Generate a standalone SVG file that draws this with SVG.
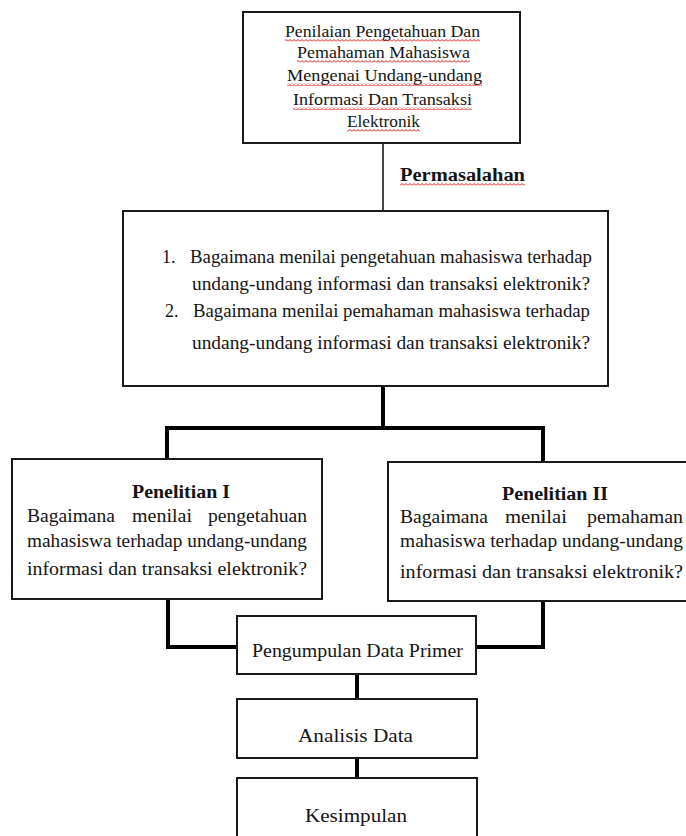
<svg xmlns="http://www.w3.org/2000/svg" width="686" height="836" viewBox="0 0 686 836">
<defs>
<pattern id="squig" x="0" y="0" width="4" height="3" patternUnits="userSpaceOnUse">
<path d="M0,2.5 L2,0.5 L4,2.5" stroke="#e01010" stroke-width="1" fill="none"/>
</pattern>
</defs>
<style>
.box{fill:#fff;stroke:#1a1a1a;stroke-width:2}
.t{font-family:"Liberation Serif","Times New Roman",serif;fill:#141414}
.s16{font-size:16px}
.s18{font-size:18px}
.b{font-weight:bold}
.c{text-anchor:middle}
.thick{fill:none;stroke:#000;stroke-width:4}
.thin{fill:none;stroke:#444;stroke-width:2}
.sq{fill:url(#squig)}
</style>
<rect width="686" height="836" fill="#fff"/>
<g id="connectors">
<path class="thin" d="M383,143 V211"/>
<path class="thick" d="M383,386 V428 M167,459 V428 H543 V462"/>
<path class="thick" d="M168,599 V647 H237 M543,601 V647 H477"/>
<path class="thick" d="M357,675 V699 M357,758 V778"/>
<text class="t s18 b" x="400" y="181" textLength="125" lengthAdjust="spacingAndGlyphs">Permasalahan</text>
<rect class="sq" x="400" y="183" width="125" height="3"/>
</g>
<g id="node-judul">
<rect class="box" x="243" y="12" width="277" height="131"/>
<text class="t s16" x="285" y="37" textLength="195" lengthAdjust="spacingAndGlyphs">Penilaian Pengetahuan Dan</text>
<text class="t s16" x="297" y="58" textLength="173" lengthAdjust="spacingAndGlyphs">Pemahaman Mahasiswa</text>
<text class="t s16" x="287" y="81" textLength="195" lengthAdjust="spacingAndGlyphs">Mengenai Undang-undang</text>
<text class="t s16" x="293" y="105" textLength="179" lengthAdjust="spacingAndGlyphs">Informasi Dan Transaksi</text>
<text class="t s16" x="347" y="127" textLength="73" lengthAdjust="spacingAndGlyphs">Elektronik</text>
<rect class="sq" x="285" y="39" width="195" height="3"/>
<rect class="sq" x="297" y="60" width="173" height="3"/>
<rect class="sq" x="287" y="83" width="195" height="3"/>
<rect class="sq" x="293" y="107" width="179" height="3"/>
<rect class="sq" x="347" y="129" width="73" height="3"/>
</g>
<g id="node-permasalahan">
<rect class="box" x="123" y="211" width="485" height="175"/>
<text class="t s18" x="162" y="263">1.</text>
<text class="t s18" x="190" y="263" textLength="402" lengthAdjust="spacingAndGlyphs">Bagaimana menilai pengetahuan mahasiswa terhadap</text>
<text class="t s18" x="192" y="290" textLength="398" lengthAdjust="spacingAndGlyphs">undang-undang informasi dan transaksi elektronik?</text>
<text class="t s18" x="165" y="317">2.</text>
<text class="t s18" x="193" y="317" textLength="397" lengthAdjust="spacingAndGlyphs">Bagaimana menilai pemahaman mahasiswa terhadap</text>
<text class="t s18" x="192" y="349" textLength="398" lengthAdjust="spacingAndGlyphs">undang-undang informasi dan transaksi elektronik?</text>
</g>
<g id="node-penelitian1">
<rect class="box" x="12" y="459" width="310" height="140"/>
<text class="t s18 b" x="132" y="498" textLength="98" lengthAdjust="spacingAndGlyphs">Penelitian I</text>
<text class="t s18" y="522"><tspan x="27" textLength="88" lengthAdjust="spacingAndGlyphs">Bagaimana</tspan><tspan x="132" textLength="60" lengthAdjust="spacingAndGlyphs">menilai</tspan><tspan x="208" textLength="99" lengthAdjust="spacingAndGlyphs">pengetahuan</tspan></text>
<text class="t s18" x="27" y="547" textLength="280" lengthAdjust="spacingAndGlyphs">mahasiswa terhadap undang-undang</text>
<text class="t s18" x="27" y="575" textLength="280" lengthAdjust="spacingAndGlyphs">informasi dan transaksi elektronik?</text>
</g>
<g id="node-penelitian2">
<rect class="box" x="388" y="462" width="310" height="139"/>
<text class="t s18 b" x="502" y="500" textLength="106" lengthAdjust="spacingAndGlyphs">Penelitian II</text>
<text class="t s18" y="523"><tspan x="400" textLength="88" lengthAdjust="spacingAndGlyphs">Bagaimana</tspan><tspan x="505" textLength="62" lengthAdjust="spacingAndGlyphs">menilai</tspan><tspan x="587" textLength="96" lengthAdjust="spacingAndGlyphs">pemahaman</tspan></text>
<text class="t s18" x="400" y="547" textLength="283" lengthAdjust="spacingAndGlyphs">mahasiswa terhadap undang-undang</text>
<text class="t s18" x="400" y="578" textLength="283" lengthAdjust="spacingAndGlyphs">informasi dan transaksi elektronik?</text>
</g>
<g id="node-pengumpulan">
<rect class="box" x="237" y="616" width="239" height="58"/>
<text class="t s18" x="252" y="657" textLength="211" lengthAdjust="spacingAndGlyphs">Pengumpulan Data Primer</text>
</g>
<g id="node-analisis">
<rect class="box" x="237" y="699" width="240" height="59"/>
<text class="t s18" x="298" y="742" textLength="115" lengthAdjust="spacingAndGlyphs">Analisis Data</text>
</g>
<g id="node-kesimpulan">
<rect class="box" x="237" y="778" width="240" height="70"/>
<text class="t s18" x="305" y="822" textLength="102" lengthAdjust="spacingAndGlyphs">Kesimpulan</text>
</g>
</svg>
